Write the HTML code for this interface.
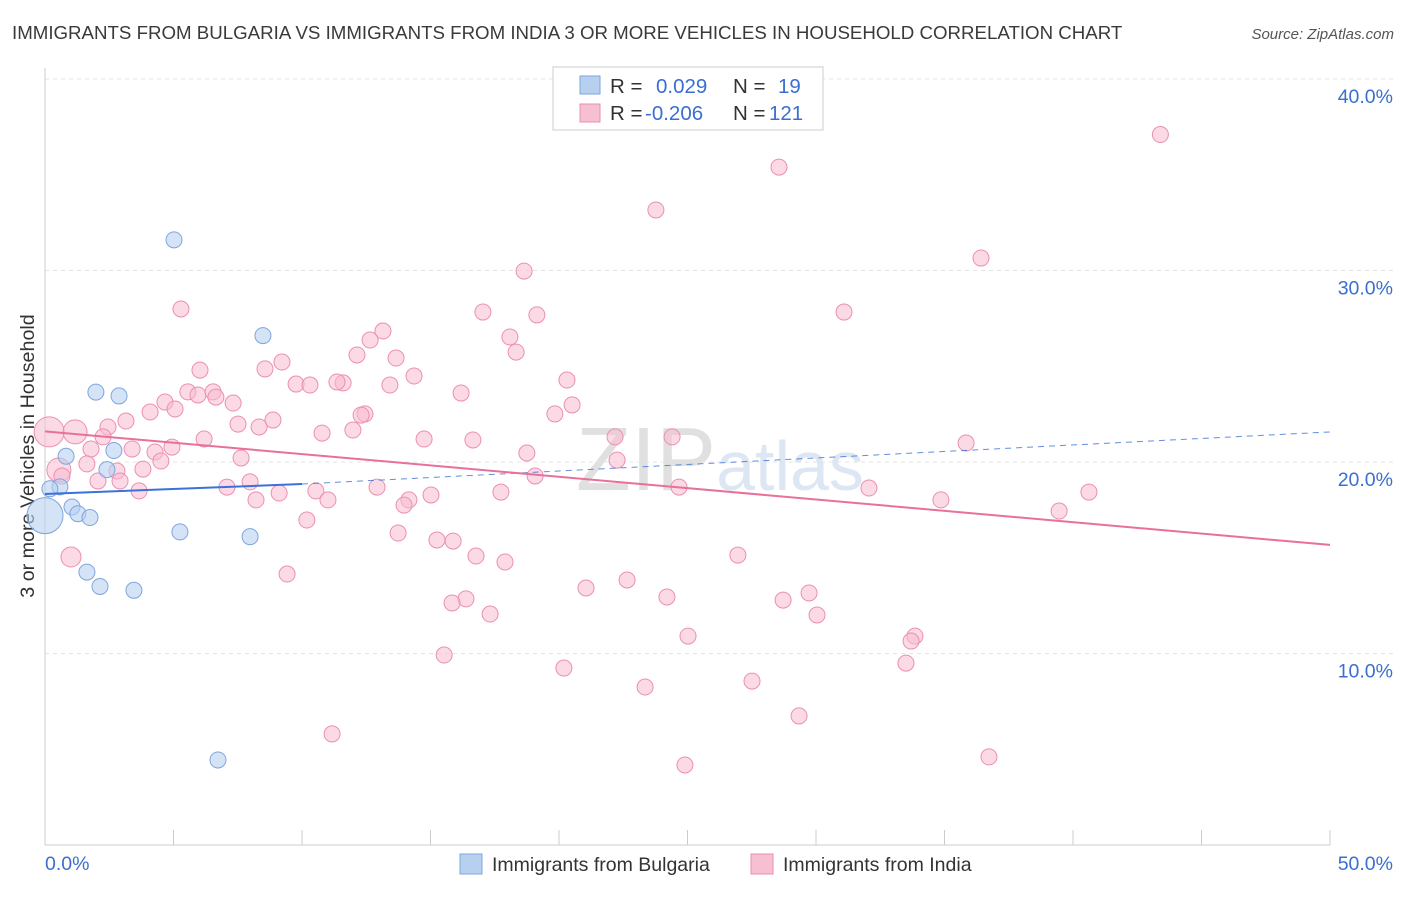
<!DOCTYPE html>
<html><head><meta charset="utf-8"><style>
body{margin:0;background:#fff;font-family:"Liberation Sans",sans-serif;}
svg text{font-family:"Liberation Sans",sans-serif;}
</style></head><body>
<svg id="chart" width="1406" height="892" xmlns="http://www.w3.org/2000/svg">
<text x="12" y="39" font-size="18.7" fill="#3a3a3a">IMMIGRANTS FROM BULGARIA VS IMMIGRANTS FROM INDIA 3 OR MORE VEHICLES IN HOUSEHOLD CORRELATION CHART</text>
<text x="1394" y="39" font-size="15" fill="#555" text-anchor="end" font-style="italic">Source: ZipAtlas.com</text>
<text x="34" y="456" font-size="19.7" fill="#333" text-anchor="middle" transform="rotate(-90 34 456)">3 or more Vehicles in Household</text>
<text x="720" y="490" font-size="90" fill="#ddd" text-anchor="middle" font-family="Liberation Serif" opacity="0.6"><tspan fill="#ccc">ZIP</tspan><tspan fill="#c8d8ee" font-family="Liberation Sans" font-size="70">atlas</tspan></text>
<g id="grid"></g><g id="axes"></g><g id="marks"></g>
<g>
<rect x="553" y="67" width="270" height="63" fill="#fff" stroke="#ccc"/>
<rect x="580" y="76" width="20" height="18" fill="#b8d0f0" stroke="#7ea6de"/>
<text x="610" y="93" font-size="20.5" fill="#333">R = <tspan fill="#3a6fd0" x="656">0.029</tspan><tspan fill="#333" x="733">N =</tspan><tspan fill="#3a6fd0" x="778">19</tspan></text>
<rect x="580" y="104" width="20" height="18" fill="#f7bfd2" stroke="#ea8fb0"/>
<text x="610" y="120" font-size="20.5" fill="#333">R = <tspan fill="#3a6fd0" x="645">-0.206</tspan><tspan fill="#333" x="733">N =</tspan><tspan fill="#3a6fd0" x="769">121</tspan></text>
</g>
<g>
<rect x="460" y="854" width="22" height="20" fill="#b8d0f0" stroke="#7ea6de"/>
<text x="492" y="871" font-size="19.5" fill="#333">Immigrants from Bulgaria</text>
<rect x="751" y="854" width="22" height="20" fill="#f7bfd2" stroke="#ea8fb0"/>
<text x="783" y="871" font-size="19.5" fill="#333">Immigrants from India</text>
</g>
</svg>
<script>
const yTicks=[10,20,30,40];
const yTickLabels=["10.0%","20.0%","30.0%","40.0%"];
const xTickLabels=["0.0%","50.0%"];
const bulgariaX=[5.02,8.48,1.98,2.88,0.82,2.68,2.41,0.58,0.19,1.05,1.28,1.75,0,1.63,2.14,3.46,5.25,7.98,6.73];
const bulgariaY=[31.6,26.6,23.65,23.45,20.3,20.6,19.6,18.7,18.6,17.65,17.3,17.1,17.2,14.25,13.5,13.3,16.35,16.1,4.44];
const bulgariaR=[8,8,8,8,8,8,8,8,8,8,8,8,18,8,8,8,8,8,8];
const indiaX=[43.4,28.56,23.77,18.64,36.42,5.29,17.04,31.09,19.14,13.15,18.09,12.65,18.33,12.14,9.22,13.66,8.56,6.03,14.36,20.31,13.42,9.77,11.6,11.36,10.31,5.56,5.95,6.54,16.19,6.65,7.32,4.67,20.51,5.06,4.09,12.45,12.3,19.84,3.15,7.51,8.87,8.33,2.45,11.98,10.78,0.16,1.17,2.26,6.19,14.75,16.65,22.18,24.4,35.84,1.79,3.39,4.28,4.94,18.75,7.63,4.51,22.26,1.63,0.54,2.8,3.81,0.66,19.07,2.06,2.92,7.98,24.67,32.06,7.08,12.92,3.66,9.11,10.54,17.74,40.62,15.02,14.16,13.97,8.21,11.01,34.86,39.46,10.19,13.74,15.25,15.88,1.01,16.77,17.9,26.96,9.42,22.65,21.05,24.2,29.73,16.38,15.84,28.72,17.32,30.04,25.02,33.85,33.7,15.53,33.5,20.19,27.51,23.35,29.34,11.17,36.73,24.9];
const indiaY=[37.1,35.4,33.16,29.97,30.65,27.99,27.83,27.83,27.68,26.84,26.53,26.37,25.74,25.59,25.22,25.43,24.86,24.8,24.49,24.28,24.02,24.07,24.13,24.18,24.02,23.66,23.5,23.66,23.6,23.39,23.08,23.13,22.98,22.77,22.61,22.51,22.45,22.51,22.14,21.98,22.19,21.83,21.83,21.67,21.51,21.57,21.57,21.31,21.2,21.2,21.15,21.31,21.31,20.99,20.68,20.68,20.52,20.78,20.47,20.21,20.05,20.1,19.9,19.58,19.53,19.63,19.27,19.27,19.01,19.01,18.96,18.69,18.64,18.69,18.69,18.49,18.38,18.49,18.43,18.43,18.28,18.02,17.75,18.02,18.02,18.02,17.44,16.97,16.29,15.93,15.87,15.04,15.09,14.78,15.14,14.15,13.84,13.42,12.95,13.16,12.85,12.64,12.79,12.06,12.01,10.91,10.91,10.65,9.92,9.5,9.24,8.56,8.25,6.74,5.8,4.6,4.18];
const bulgariaLine=[18.33,18.85,21.57]; // at x=0, 10 (solid end), 50
const indiaLine=[21.6,15.67]; // at x=0, 50
const NS="http://www.w3.org/2000/svg";
const X=v=>45+v*25.7, Y=v=>845-v*19.15;
function mk(tag,attrs,parent){const e=document.createElementNS(NS,tag);for(const k in attrs)e.setAttribute(k,attrs[k]);document.getElementById(parent).appendChild(e);return e;}
yTicks.forEach((t,i)=>{
 const g=mk('line',{x1:45,x2:1394,y1:Y(t),y2:Y(t),stroke:'#e4e4e4','stroke-dasharray':'4 4'},'grid');
 
 
 const l=mk('text',{x:1393,y:Y(t)+24,'font-size':19.5,fill:'#3a6fd0','text-anchor':'end'},'axes');
 l.textContent=yTickLabels[i];
 
 
});
const ax=mk('line',{x1:45,x2:1330,y1:845,y2:845,stroke:'#ccc'},'axes');


const ay=mk('line',{x1:45,x2:45,y1:68,y2:845,stroke:'#ccc'},'axes');


for(let i=0;i<=10;i++){const t=mk('line',{x1:X(i*5),x2:X(i*5),y1:830,y2:845,stroke:'#ccc'},'axes');
 
 }
[[0,'start',45],[1,'end',1393]].forEach(([i,a,x])=>{const t=mk('text',{x:x,y:870,'font-size':19.5,fill:'#3a6fd0','text-anchor':a},'axes');t.textContent=xTickLabels[i];
 
 });
indiaX.forEach((x,i)=>{const big=(x<1.2&&(indiaY[i]>21.5||indiaY[i]<15.5||(indiaY[i]>19.5&&indiaY[i]<19.7)));
 const r=x<0.3?15:(big?(indiaY[i]<15.5?10:12):8);
 const c=mk('circle',{cx:X(x),cy:Y(indiaY[i]),r:r,fill:'#f7bcd0','fill-opacity':0.55,stroke:'#ec8fb0','stroke-width':1},'marks');
 
 });
bulgariaX.forEach((x,i)=>{const c=mk('circle',{cx:X(x),cy:Y(bulgariaY[i]),r:bulgariaR[i],fill:'#b8d0f0','fill-opacity':0.6,stroke:'#7ea6de','stroke-width':1},'marks');
 
 });
const b1=mk('line',{x1:X(0),y1:Y(bulgariaLine[0]),x2:X(10),y2:Y(bulgariaLine[1]),stroke:'#3a72d8','stroke-width':2},'marks');


const b2=mk('line',{x1:X(10),y1:Y(bulgariaLine[1]),x2:X(50),y2:Y(bulgariaLine[2]),stroke:'#3a72d8','stroke-width':1,'stroke-dasharray':'6 5','opacity':0.8},'marks');


const p=mk('line',{x1:X(0),y1:Y(indiaLine[0]),x2:X(50),y2:Y(indiaLine[1]),stroke:'#e8709a','stroke-width':2},'marks');


</script>
</body></html>
